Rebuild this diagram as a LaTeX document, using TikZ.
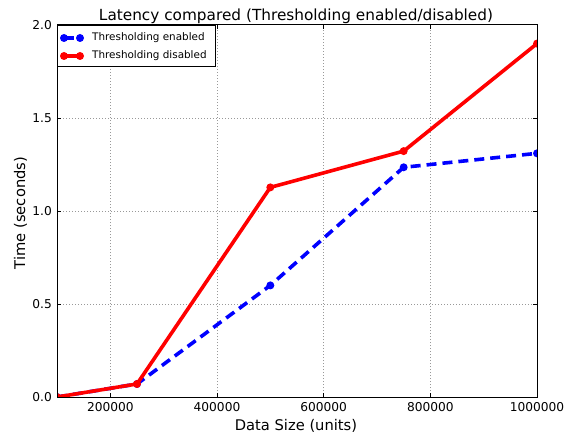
\documentclass[tikz,border=0pt]{standalone}
\usepackage{fontspec}
\setmainfont{DejaVu Sans}
\begin{document}
\begin{tikzpicture}[x=1pt,y=1pt,
  frame/.style={draw=black,line width=1pt},
  gridline/.style={draw=gray!80,line width=0.6pt,dash pattern=on 1pt off 2pt},
  ticklbl/.style={font=\fontsize{12.2}{12.2}\selectfont,inner sep=0pt},
  axlbl/.style={font=\fontsize{14.7}{14.7}\selectfont,inner sep=0pt},
  titlelbl/.style={font=\fontsize{15.3}{15.3}\selectfont,inner sep=0pt},
  enabled/.style={draw=blue,line width=3.6pt,dash pattern=on 10pt off 6pt},
  disabled/.style={draw=red,line width=3.6pt},
  bdot/.style={circle,fill=blue,inner sep=0pt,minimum size=8pt},
  rdot/.style={circle,fill=red,inner sep=0pt,minimum size=8pt},
  legtxt/.style={font=\fontsize{10.4}{10.4}\selectfont,anchor=west,inner sep=0pt}]
\useasboundingbox (0,0) rectangle (564,437);
\fill[white] (0,0) rectangle (564,437);

% data frame: x = size/100000 - 1, y = seconds
\begin{scope}[shift={(57,40)},x=53.333pt,y=186pt]
  \coordinate (ll) at (0,0);
  \coordinate (ur) at (9,2);
  % grid
  \foreach \gx in {2,4,6,8}
    \draw[gridline] (\gx-1,0) -- (\gx-1,2);
  \foreach \gy in {0.5,1.0,1.5}
    \draw[gridline] (0,\gy) -- (9,\gy);
  % ticks, pointing inwards
  \foreach \gx in {2,4,6,8}{
    \draw[line width=0.8pt] (\gx-1,0) -- ++(0,4pt);
    \draw[line width=0.8pt] (\gx-1,2) -- ++(0,-4pt);}
  \foreach \gy in {0.5,1.0,1.5}{
    \draw[line width=0.8pt] (0,\gy) -- ++(4pt,0);
    \draw[line width=0.8pt] (9,\gy) -- ++(-4pt,0);}
  % tick labels
  \foreach \gx/\lab in {2/200000,4/400000,6/600000,8/800000,10/1000000}
    \node[ticklbl,anchor=north] at ([yshift=-5pt]\gx-1,0) {\lab};
  \foreach \gy in {0.0,0.5,1.0,1.5,2.0}
    \node[ticklbl,anchor=east] at ([xshift=-5pt]0,\gy) {\gy};

  % measurements
  \coordinate (e1) at (0,0.0);
  \coordinate (e2) at (1.5,0.07);
  \coordinate (e3) at (4,0.60);
  \coordinate (e4) at (6.5,1.235);
  \coordinate (e5) at (9,1.31);
  \coordinate (d1) at (0,0.0);
  \coordinate (d2) at (1.5,0.07);
  \coordinate (d3) at (4,1.127);
  \coordinate (d4) at (6.5,1.322);
  \coordinate (d5) at (9,1.90);

  \begin{scope}
    \clip (ll) rectangle (ur);
    \draw[enabled,line join=round] (e1) -- (e2) -- (e3) -- (e4) -- (e5);
    \foreach \p in {e1,e2,e3,e4,e5} \node[bdot] at (\p) {};
    \draw[disabled,line join=round] (d1) -- (d2) -- (d3) -- (d4) -- (d5);
    \foreach \p in {d1,d2,d3,d4,d5} \node[rdot] at (\p) {};
  \end{scope}

  \draw[frame] (ll) rectangle (ur);
\end{scope}

% legend
\node[draw=black,line width=1pt,fill=white,inner sep=0pt,minimum width=158pt,minimum height=41pt,anchor=north west] (legend) at (57,412) {};
\coordinate (la) at (64,399);
\coordinate (lb) at (80,399);
\coordinate (lc) at (64,381);
\coordinate (ld) at (80,381);
\draw[enabled] (la) -- (lb);
\node[bdot] at (la) {};
\node[bdot] at (lb) {};
\draw[disabled] (lc) -- (ld);
\node[rdot] at (lc) {};
\node[rdot] at (ld) {};
\node[legtxt] at (92,399) {Thresholding enabled};
\node[legtxt] at (92,381) {Thresholding disabled};

% titles
\node[titlelbl,anchor=base] (title) at (296,416.2) {Latency compared (Thresholding enabled/disabled)};
\node[axlbl,anchor=base] (xlab) at (296,7) {Data Size (units)};
\node[axlbl,anchor=base,rotate=90] (ylab) at (25,224) {Time (seconds)};
\end{tikzpicture}
\end{document}
